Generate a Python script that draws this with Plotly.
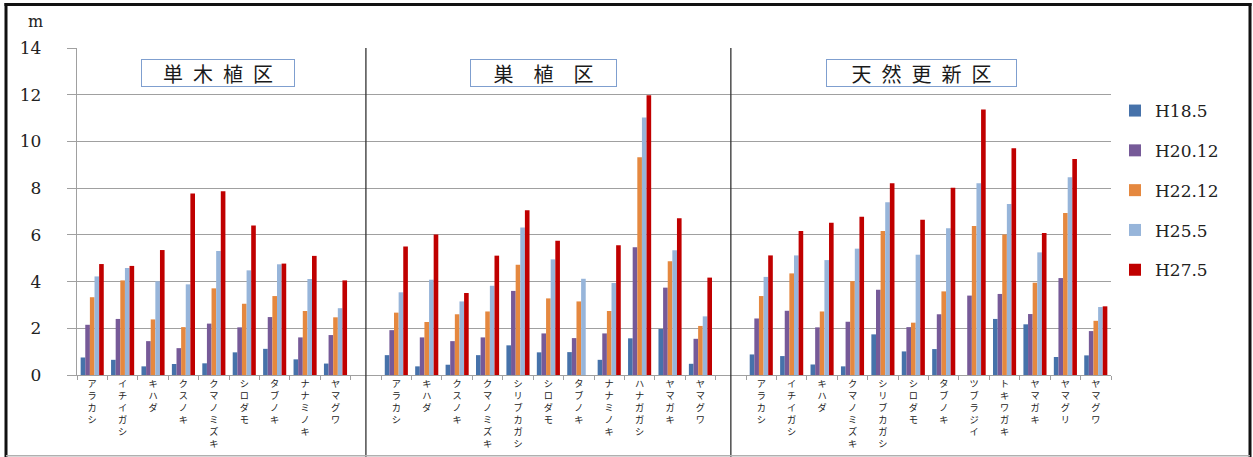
import plotly.graph_objects as go

# ---------------- data ----------------
groups = ["単木植区", "巣植区", "天然更新区"]
group_titles = ["単\u2002木\u2002植\u2002区", "巣\u3000植\u3000区", "天\u2002然\u2002更\u2002新\u2002区"]

species_1 = ["アラカシ", "イチイガシ", "キハダ", "クスノキ", "クマノミズキ", "シロダモ", "タブノキ", "ナナミノキ", "ヤマグワ"]
species_2 = ["アラカシ", "キハダ", "クスノキ", "クマノミズキ", "シリブカガシ", "シロダモ", "タブノキ", "ナナミノキ", "ハナガガシ", "ヤマガキ", "ヤマグワ"]
species_3 = ["アラカシ", "イチイガシ", "キハダ", "クマノミズキ", "シリブカガシ", "シロダモ", "タブノキ", "ツブラジイ", "トキワガキ", "ヤマガキ", "ヤマグリ", "ヤマグワ"]

series_names = ["H18.5", "H20.12", "H22.12", "H25.5", "H27.5"]

# group 1 (単木植区)
g1_h18_5  = [0.75, 0.65, 0.37, 0.47, 0.50, 0.97, 1.12, 0.67, 0.49]
g1_h20_12 = [2.15, 2.40, 1.45, 1.15, 2.20, 2.04, 2.48, 1.61, 1.71]
g1_h22_12 = [3.33, 4.05, 2.38, 2.05, 3.71, 3.05, 3.38, 2.74, 2.47]
g1_h25_5  = [4.22, 4.58, 4.01, 3.88, 5.31, 4.48, 4.74, 4.11, 2.86]
g1_h27_5  = [4.75, 4.67, 5.35, 7.77, 7.87, 6.40, 4.77, 5.10, 4.05]

# group 2 (巣植区)
g2_h18_5  = [0.85, 0.37, 0.44, 0.85, 1.27, 0.97, 0.98, 0.65, 1.57, 1.97, 0.48]
g2_h20_12 = [1.92, 1.61, 1.45, 1.61, 3.60, 1.78, 1.58, 1.78, 5.47, 3.74, 1.55]
g2_h22_12 = [2.67, 2.27, 2.60, 2.72, 4.72, 3.28, 3.15, 2.74, 9.32, 4.87, 2.10]
g2_h25_5  = [3.54, 4.08, 3.15, 3.82, 6.31, 4.95, 4.12, 3.94, 11.02, 5.34, 2.51]
g2_h27_5  = [5.50, 6.02, 3.51, 5.11, 7.05, 5.75, None, 5.55, 11.98, 6.71, 4.17]

# group 3 (天然更新区)
g3_h18_5  = [0.88, 0.81, 0.45, 0.37, 1.74, 1.01, 1.11, None, 2.40, 2.17, 0.77, 0.84]
g3_h20_12 = [2.42, 2.75, 2.04, 2.28, 3.65, 2.05, 2.60, 3.40, 3.47, 2.61, 4.15, 1.88]
g3_h22_12 = [3.38, 4.35, 2.72, 4.02, 6.17, 2.24, 3.58, 6.38, 6.01, 3.95, 6.94, 2.32]
g3_h25_5  = [4.20, 5.12, 4.92, 5.41, 7.40, 5.15, 6.28, 8.21, 7.32, 5.25, 8.47, 2.91]
g3_h27_5  = [5.12, 6.17, 6.52, 6.77, 8.21, 6.65, 8.02, 11.37, 9.71, 6.08, 9.25, 2.94]

colors = ["#4672aa", "#765a98", "#e5883f", "#97b5da", "#c00000"]

y_ticks = [0, 2, 4, 6, 8, 10, 12, 14]

# ---------------- build ----------------
species_lists = [species_1, species_2, species_3]
series_by_group = [
    [g1_h18_5, g1_h20_12, g1_h22_12, g1_h25_5, g1_h27_5],
    [g2_h18_5, g2_h20_12, g2_h22_12, g2_h25_5, g2_h27_5],
    [g3_h18_5, g3_h20_12, g3_h22_12, g3_h25_5, g3_h27_5],
]

keys, labels, sep_keys, centers = [], [], [], []
for gi, (g, sp) in enumerate(zip(groups, species_lists)):
    if gi > 0:
        k = f"sep{gi}"
        keys.append(k)
        labels.append("")
        sep_keys.append(k)
    start = len(keys)
    for s in sp:
        keys.append(f"{g}|{s}")
        labels.append("<br>".join(list(s)))
    centers.append((start + len(keys) - 1) / 2)

fig = go.Figure()
for si, name in enumerate(series_names):
    xs, ys = [], []
    for gi in range(len(groups)):
        if gi > 0:
            xs.append(f"sep{gi}")
            ys.append(None)
        for s, v in zip(species_lists[gi], series_by_group[gi][si]):
            xs.append(f"{groups[gi]}|{s}")
            ys.append(v)
    fig.add_trace(go.Bar(
        x=xs, y=ys, name=name, marker=dict(color=colors[si], line=dict(width=0)),
        legendgroup=name,
    ))

# layout geometry in page pixels
W, H = 1253, 457
PLOT_L, PLOT_R, PLOT_T, PLOT_B = 77, 1111, 48, 375
PL, PR, PT, PB = PLOT_L, W - PLOT_R, PLOT_T, H - PLOT_B
pw, ph = PLOT_R - PLOT_L, PLOT_B - PLOT_T


def px_x(p):
    return (p - PLOT_L) / pw


def px_y(p):
    return (PLOT_B - p) / ph


shapes = []
for k in sep_keys:
    shapes.append(dict(type="line", xref="x", yref="paper", x0=k, x1=k,
                       y0=px_y(457), y1=1, line=dict(color="#333333", width=1.3)))
# outer frame
shapes += [
    dict(type="line", xref="paper", yref="paper", x0=px_x(6), x1=px_x(6), y0=px_y(3), y1=px_y(457),
         line=dict(color="#111111", width=3)),
    dict(type="line", xref="paper", yref="paper", x0=px_x(4.5), x1=px_x(1251.5), y0=px_y(4.5), y1=px_y(4.5),
         line=dict(color="#111111", width=3)),
    dict(type="line", xref="paper", yref="paper", x0=px_x(1250), x1=px_x(1250), y0=px_y(3), y1=px_y(457),
         line=dict(color="#111111", width=3)),
    dict(type="line", xref="paper", yref="paper", x0=px_x(6), x1=px_x(1250), y0=px_y(455.8), y1=px_y(455.8),
         line=dict(color="#b0b0b0", width=1.5)),
]

box_widths = [150, 143, 187]
box_shifts = [4, -4.5, -7]
annotations = []
for c, t, bw, sh in zip(centers, group_titles, box_widths, box_shifts):
    annotations.append(dict(
        x=c, y=px_y(73), xref="x", yref="paper", text=t, showarrow=False,
        font=dict(family="Noto Sans CJK JP", size=20, color="#1a1a1a"),
        bordercolor="#7f9fcf", borderwidth=1, borderpad=1, bgcolor="white",
        width=bw, height=24, xanchor="center", yanchor="middle", xshift=sh,
    ))
annotations.append(dict(
    x=px_x(35), y=px_y(22), xref="paper", yref="paper", text="m", showarrow=False,
    font=dict(family="DejaVu Serif", size=16, color="#222222"),
    xanchor="center", yanchor="middle",
))

fig.update_layout(
    width=W, height=H, autosize=False,
    margin=dict(l=PL, r=PR, t=PT, b=PB, pad=0, autoexpand=False),
    plot_bgcolor="white", paper_bgcolor="white",
    barmode="group", bargap=0.24, bargroupgap=0,
    showlegend=True,
    legend=dict(
        x=px_x(1115), xanchor="left", y=px_y(93), yanchor="top",
        font=dict(family="DejaVu Serif", size=17, color="#222222"),
        tracegroupgap=14.7, bgcolor="rgba(0,0,0,0)", itemclick=False,
    ),
    shapes=shapes, annotations=annotations,
)

fig.update_xaxes(
    type="category", categoryorder="array", categoryarray=keys,
    tickmode="array", tickvals=keys, ticktext=labels,
    tickson="boundaries", ticks="outside", ticklen=4, tickcolor="#a0a0a0",
    showline=True, linecolor="#a0a0a0", linewidth=1.3,
    showgrid=False, tickangle=0, range=[-0.5, len(keys) - 0.5],
    ticklabelstandoff=0, automargin=False,
    tickfont=dict(family="Noto Sans CJK JP", size=9.2, color="#222222"),
)
fig.update_yaxes(
    range=[0, 14], tickmode="array", tickvals=y_ticks,
    showgrid=True, gridcolor="#a0a0a0", gridwidth=1.3,
    showline=True, linecolor="#a0a0a0", linewidth=1.3,
    ticks="outside", ticklen=9, tickcolor="#a0a0a0",
    ticklabelstandoff=22, zeroline=False, automargin=False,
    tickfont=dict(family="DejaVu Serif", size=17, color="#222222"),
)

fig.write_html(
    "out.html",
    config={"displayModeBar": False},
    post_script="document.body.style.margin='0';document.body.style.overflow='hidden';",
)
